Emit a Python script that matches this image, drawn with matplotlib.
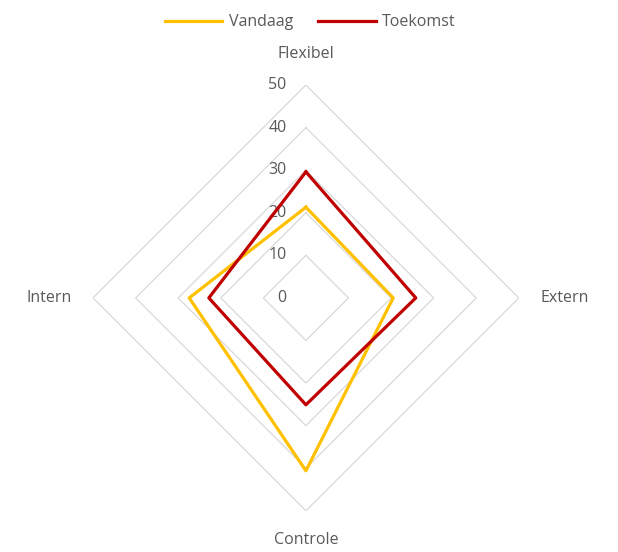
import numpy as np
import matplotlib.pyplot as plt

plt.rcParams['font.family'] = ['Open Sans', 'DejaVu Sans']

categories = ['Flexibel', 'Extern', 'Controle', 'Intern']
vandaag = [21.3, 20.5, 40.6, 27.4]
toekomst = [29.6, 25.8, 25.1, 22.8]
ticks = [0, 10, 20, 30, 40, 50]

grey_txt = '#595959'
grid_col = '#d9d9d9'

angles = np.arange(len(categories)) * 2 * np.pi / len(categories)
closed = np.append(angles, angles[0])

fig = plt.figure(figsize=(6.18, 5.52), dpi=100)
ax = fig.add_axes([0.1505, 0.0743, 0.689, 0.772], projection='polar')
ax.set_theta_zero_location('N')
ax.set_theta_direction(-1)
ax.set_ylim(0, 50)
ax.grid(False)
ax.spines['polar'].set_visible(False)
ax.set_xticks([])
ax.set_yticks([])

# diamond-shaped gridlines, no spokes
for t in ticks[1:]:
    ax.plot(closed, [t] * len(closed), color=grid_col, lw=0.9, zorder=1)

for t in ticks:
    ax.annotate(str(t), xy=(0, t), xytext=(-14, 0), textcoords='offset points',
                ha='right', va='center', fontsize=11.5, color=grey_txt)

ax.plot(closed, np.append(vandaag, vandaag[0]), color='#ffc000', lw=2.3,
        label='Vandaag', zorder=3)
ax.plot(closed, np.append(toekomst, toekomst[0]), color='#c00000', lw=2.3,
        label='Toekomst', zorder=4)

label_pos = [(57.2, 'center', 'center'), (55, 'left', 'center'),
             (56.9, 'center', 'center'), (55, 'right', 'center')]
for a, name, (r, ha, va) in zip(angles, categories, label_pos):
    ax.text(a, r, name, ha=ha, va=va, fontsize=11.5, color=grey_txt)

fig.legend(loc='upper center', bbox_to_anchor=(0.502, 1.0), ncol=2,
           frameon=False, fontsize=11.5, labelcolor=grey_txt,
           handlelength=3.6, columnspacing=1.6, handletextpad=0.4)

fig.savefig('out.png', dpi=100)
